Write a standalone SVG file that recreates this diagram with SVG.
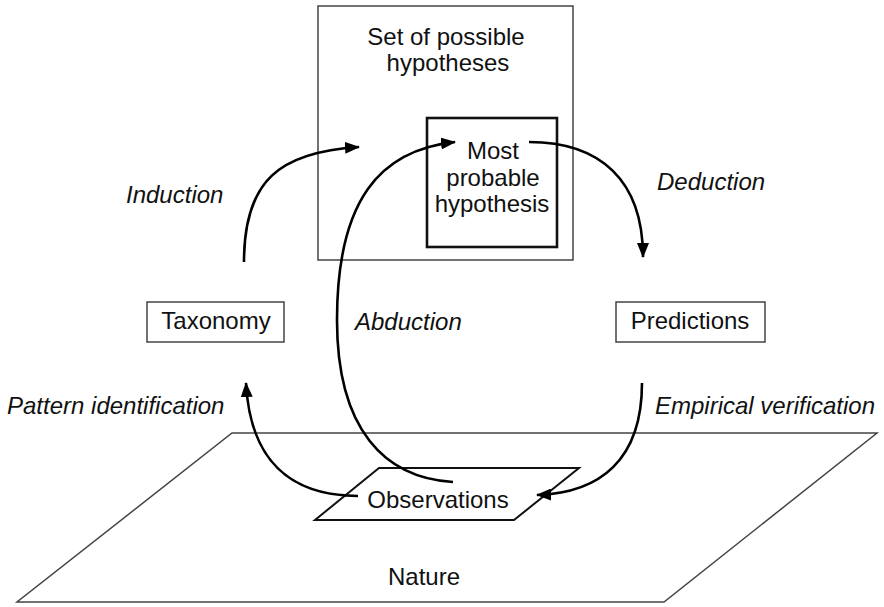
<svg xmlns="http://www.w3.org/2000/svg" width="884" height="607" viewBox="0 0 884 607">
<style>
.t{font-family:"Liberation Sans",Arial,sans-serif;font-size:24px;fill:#111}
.i{font-style:italic}
.c{text-anchor:middle}
.thin{fill:#fff;stroke:#444;stroke-width:1.5}
.arr{fill:none;stroke:#000;stroke-width:2.6;marker-end:url(#ah)}
</style>
<defs>
<marker id="ah" markerUnits="userSpaceOnUse" markerWidth="16" markerHeight="12" refX="14" refY="6" orient="auto">
<path d="M0,0 L15,6 L0,12 Z" fill="#000"/>
</marker>
</defs>
<g id="nature">
<polygon class="thin" points="232,433 877,433 664,602 17,602"/>
<text class="t c" x="424" y="585">Nature</text>
</g>
<g id="set-of-hypotheses">
<rect class="thin" x="318" y="6" width="255" height="254"/>
<text class="t c" x="446" y="45">Set of possible</text>
<text class="t c" x="448" y="71">hypotheses</text>
</g>
<g id="most-probable">
<rect x="427" y="118" width="130" height="129" fill="#fff" stroke="#111" stroke-width="2.6"/>
<text class="t c" x="493" y="159">Most</text>
<text class="t c" x="493" y="186">probable</text>
<text class="t c" x="492" y="212">hypothesis</text>
</g>
<g id="taxonomy">
<rect class="thin" x="147" y="302" width="137" height="40"/>
<text class="t c" x="216" y="329">Taxonomy</text>
</g>
<g id="predictions">
<rect class="thin" x="616" y="302" width="149" height="40"/>
<text class="t c" x="690" y="329">Predictions</text>
</g>
<g id="observations">
<polygon points="379,468 579,468 514,520 315,520" fill="#fff" stroke="#111" stroke-width="2"/>
<text class="t c" x="438" y="508">Observations</text>
</g>
<g id="connectors">
<path class="arr" d="M244,262 C244,180 280,152 359,147"/>
<path class="arr" d="M453,482 C385,478 337,430 337,320 C337,200 380,150 455,142"/>
<path class="arr" d="M529,142 C600,142 643,180 643,257"/>
<path class="arr" d="M358,496 C290,496 250,460 246,383"/>
<path class="arr" d="M642,383 C642,460 600,493 537,495"/>
</g>
<g id="labels">
<text class="t i" x="126" y="203">Induction</text>
<text class="t i" x="657" y="190">Deduction</text>
<text class="t i" x="355" y="330">Abduction</text>
<text class="t i" x="7" y="414">Pattern identification</text>
<text class="t i" x="655" y="414">Empirical verification</text>
</g>
</svg>
